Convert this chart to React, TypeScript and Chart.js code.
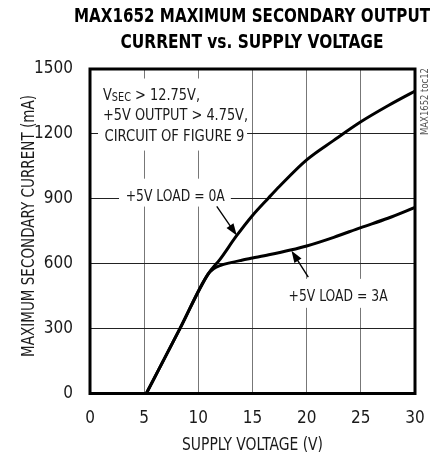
import React, { useEffect, useRef } from "react";
import { Chart, registerables } from "chart.js";

Chart.register(...registerables);

// ---- Data ----
const supplyVoltage0A = [5.2, 8.3, 10.9, 12, 13.5, 15, 16.5, 17.5, 20, 22.5, 25, 27.5, 30];
const current0A = [0, 300, 552, 620, 727, 823, 905, 958, 1080, 1170, 1256, 1330, 1398];
const supplyVoltage3A = [5.2, 8.3, 10.9, 11.4, 12, 13, 14, 15, 16.5, 18.5, 20, 22.5, 25, 27.5, 30];
const current3A = [0, 300, 552, 576, 591, 605, 616, 626, 641, 663, 682, 722, 767, 810, 860];
const xTickValues = [0, 5, 10, 15, 20, 25, 30];
const yTickValues = [0, 300, 600, 900, 1200, 1500];

const TITLE_LINES = ["MAX1652 MAXIMUM SECONDARY OUTPUT", "CURRENT vs. SUPPLY VOLTAGE"];
const X_TITLE = "SUPPLY VOLTAGE (V)";
const Y_TITLE = "MAXIMUM SECONDARY CURRENT (mA)";
const SIDE_TEXT = "MAX1652 toc12";
const NOTE_LINE1 = ["V", "SEC", " > 12.75V,"];
const NOTE_LINE2 = "+5V OUTPUT > 4.75V,";
const NOTE_LINE3 = "CIRCUIT OF FIGURE 9";
const LABEL_0A = "+5V LOAD = 0A";
const LABEL_3A = "+5V LOAD = 3A";

const NARROW = '"Liberation Sans Narrow", "Arial Narrow", "DejaVu Sans Condensed", sans-serif';

function drawFitted(
  ctx: CanvasRenderingContext2D,
  text: string,
  x: number,
  y: number,
  font: string,
  width: number | null,
  align: CanvasTextAlign = "left",
  color = "#1a1a1a"
) {
  ctx.save();
  ctx.font = font;
  const w = ctx.measureText(text).width;
  const sx = width ? width / w : 1;
  ctx.translate(x, y);
  ctx.scale(sx, 1);
  ctx.textAlign = align;
  ctx.textBaseline = "alphabetic";
  ctx.fillStyle = color;
  ctx.fillText(text, 0, 0);
  ctx.restore();
}

function arrow(ctx: CanvasRenderingContext2D, x1: number, y1: number, x2: number, y2: number) {
  const ang = Math.atan2(y2 - y1, x2 - x1);
  const len = 12;
  const hw = 4.2;
  ctx.save();
  ctx.strokeStyle = "#000";
  ctx.fillStyle = "#000";
  ctx.lineWidth = 1.4;
  ctx.beginPath();
  ctx.moveTo(x1, y1);
  ctx.lineTo(x2 - Math.cos(ang) * len * 0.8, y2 - Math.sin(ang) * len * 0.8);
  ctx.stroke();
  ctx.beginPath();
  ctx.moveTo(x2, y2);
  ctx.lineTo(x2 - Math.cos(ang) * len - Math.sin(ang) * hw, y2 - Math.sin(ang) * len + Math.cos(ang) * hw);
  ctx.lineTo(x2 - Math.cos(ang) * len + Math.sin(ang) * hw, y2 - Math.sin(ang) * len - Math.cos(ang) * hw);
  ctx.closePath();
  ctx.fill();
  ctx.restore();
}

const annotations = {
  id: "annotations",
  beforeDatasetsDraw(chart: any) {
    const ctx: CanvasRenderingContext2D = chart.ctx;
    const xs = chart.scales.x;
    const ys = chart.scales.y;
    const px = (v: number) => xs.getPixelForValue(v);
    const py = (v: number) => ys.getPixelForValue(v);
    ctx.save();
    ctx.fillStyle = "#fff";
    // white label boxes hiding the grid
    ctx.fillRect(px(0.74), py(1456), px(14.5) - px(0.74), py(1123) - py(1456));
    ctx.fillRect(px(2.68), py(993), px(13.0) - px(2.68), py(864) - py(993));
    ctx.fillRect(px(17.7), py(530), px(28.1) - px(17.7), py(396) - py(530));
    ctx.restore();

    // top-left note, line 1 with subscript
    const x0 = px(1.2);
    const b1 = py(1359);
    ctx.save();
    ctx.fillStyle = "#1a1a1a";
    ctx.textBaseline = "alphabetic";
    ctx.textAlign = "left";
    const big = `16px ${NARROW}`;
    const small = `12px ${NARROW}`;
    ctx.font = big;
    const vw = ctx.measureText(NOTE_LINE1[0]).width;
    const rw = ctx.measureText(NOTE_LINE1[2]).width;
    ctx.font = small;
    const sw = ctx.measureText(NOTE_LINE1[1]).width;
    const sx = 97 / (vw + sw + rw);
    ctx.translate(x0, b1);
    ctx.scale(sx, 1);
    ctx.font = big;
    ctx.fillText(NOTE_LINE1[0], 0, 0);
    ctx.font = small;
    ctx.fillText(NOTE_LINE1[1], vw, 1.8);
    ctx.font = big;
    ctx.fillText(NOTE_LINE1[2], vw + sw, 0);
    ctx.restore();
    drawFitted(ctx, NOTE_LINE2, x0, py(1263), `16px ${NARROW}`, 145);
    drawFitted(ctx, NOTE_LINE3, x0 + 1.5, py(1169), `16px ${NARROW}`, 140);

    drawFitted(ctx, LABEL_0A, px(7.87), py(892), `16px ${NARROW}`, 99, "center");
    drawFitted(ctx, LABEL_3A, px(22.9), py(429), `16px ${NARROW}`, 99, "center");
  },
  afterDatasetsDraw(chart: any) {
    const ctx: CanvasRenderingContext2D = chart.ctx;
    const xs = chart.scales.x;
    const ys = chart.scales.y;
    const px = (v: number) => xs.getPixelForValue(v);
    const py = (v: number) => ys.getPixelForValue(v);
    const a = chart.chartArea;

    arrow(ctx, px(11.7), py(865), px(13.55), py(730));
    arrow(ctx, px(20.15), py(538), px(18.6), py(660));

    // frame
    ctx.save();
    ctx.strokeStyle = "#000";
    ctx.lineWidth = 3;
    ctx.strokeRect(a.left, a.top, a.right - a.left, a.bottom - a.top);
    ctx.restore();

    // title
    const cx = 252;
    drawFitted(ctx, TITLE_LINES[0], cx, 21.7, `bold 19px ${NARROW}`, 356, "center", "#000");
    drawFitted(ctx, TITLE_LINES[1], cx, 48.3, `bold 19px ${NARROW}`, 263, "center", "#000");

    // x title
    drawFitted(ctx, X_TITLE, 252.5, 450, `17px ${NARROW}`, 141, "center");

    // y title
    ctx.save();
    ctx.translate(34, 226);
    ctx.rotate(-Math.PI / 2);
    drawFitted(ctx, Y_TITLE, 0, 0, `17px ${NARROW}`, 262, "center");
    ctx.restore();

    // side text
    ctx.save();
    ctx.translate(428, 101.5);
    ctx.rotate(-Math.PI / 2);
    drawFitted(ctx, SIDE_TEXT, 0, 0, `10px ${NARROW}`, 67, "center", "#555");
    ctx.restore();
  },
};

export default function App() {
  const ref = useRef<HTMLCanvasElement | null>(null);
  useEffect(() => {
    if (!ref.current) return;
    const chart = new Chart(ref.current, {
      type: "line",
      data: {
        datasets: [
          {
            label: "+5V LOAD = 0A",
            data: supplyVoltage0A.map((v, i) => ({ x: v, y: current0A[i] })),
            borderColor: "#000",
            borderWidth: 3,
            pointRadius: 0,
            fill: false,
            cubicInterpolationMode: "monotone",
          },
          {
            label: "+5V LOAD = 3A",
            data: supplyVoltage3A.map((v, i) => ({ x: v, y: current3A[i] })),
            borderColor: "#000",
            borderWidth: 3,
            pointRadius: 0,
            fill: false,
            cubicInterpolationMode: "monotone",
          },
        ],
      },
      options: {
        animation: false,
        responsive: false,
        devicePixelRatio: 1,
        layout: { padding: { top: 69, right: 16, left: 0, bottom: 0 } },
        plugins: { legend: { display: false }, tooltip: { enabled: false }, title: { display: false } },
        scales: {
          x: {
            type: "linear",
            min: 0,
            max: 30,
            afterBuildTicks: (s: any) => {
              s.ticks = xTickValues.map((v) => ({ value: v }));
            },
            afterFit: (s: any) => {
              s.height = 63.5;
              s.paddingLeft = 0;
              s.paddingRight = 0;
            },
            grid: { color: "#777", lineWidth: 1, drawTicks: false },
            border: { display: false },
            ticks: {
              padding: 14.5,
              color: "#1a1a1a",
              font: { family: NARROW, size: 17 },
              maxRotation: 0,
              autoSkip: false,
              callback: (v: any) => String(v),
            },
          },
          y: {
            type: "linear",
            min: 0,
            max: 1500,
            afterBuildTicks: (s: any) => {
              s.ticks = yTickValues.map((v) => ({ value: v }));
            },
            afterFit: (s: any) => {
              s.width = 90;
              s.paddingTop = 0;
              s.paddingBottom = 0;
            },
            grid: { color: "#222", lineWidth: 1, drawTicks: false },
            border: { display: false },
            ticks: {
              padding: 17,
              color: "#1a1a1a",
              font: { family: NARROW, size: 17 },
              autoSkip: false,
              callback: (v: any) => String(v),
            },
          },
        },
      },
      plugins: [annotations],
    } as any);
    return () => chart.destroy();
  }, []);
  return (
    <div style={{ position: "absolute", left: 0, top: 0, width: 431, height: 457, background: "#fff" }}>
      <canvas ref={ref} width={431} height={457} style={{ display: "block" }} />
    </div>
  );
}
